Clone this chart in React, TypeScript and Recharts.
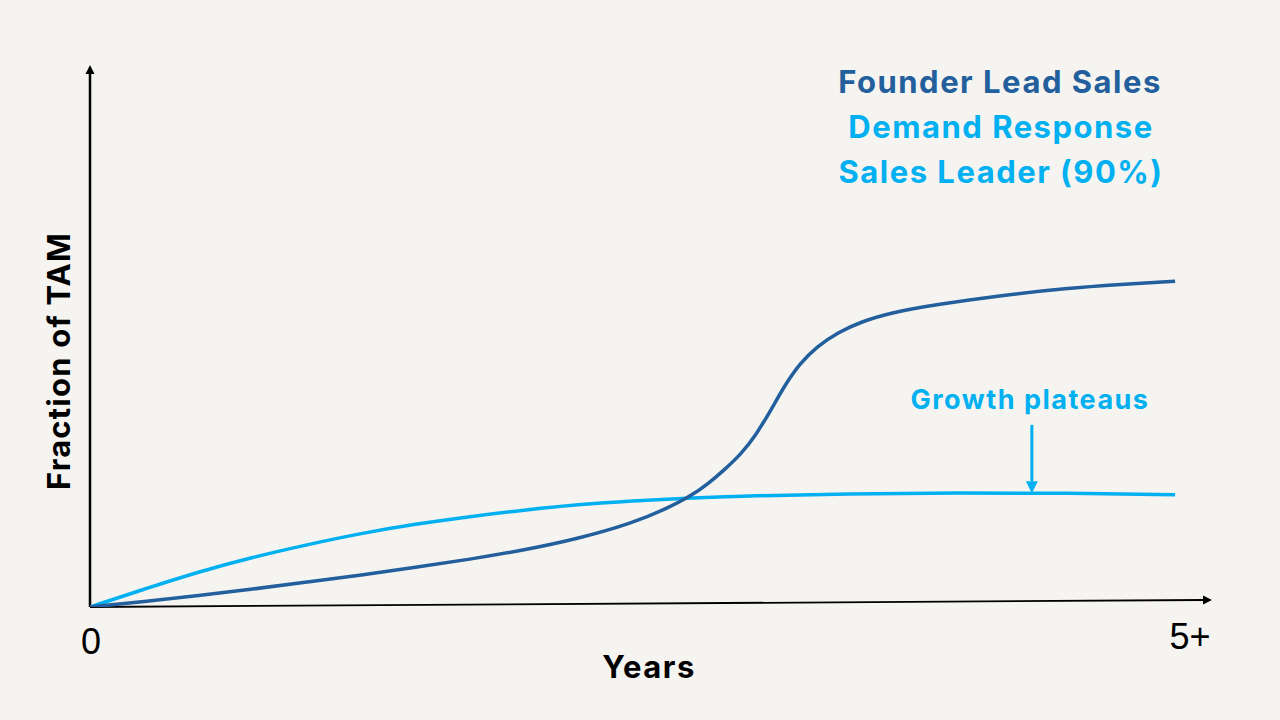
import { LineChart, Line, XAxis, YAxis, ReferenceLine } from 'recharts';

// years since start vs fraction of TAM captured
const founderYears = [0, 0.25, 0.5, 0.75, 1, 1.25, 1.5, 1.75, 2, 2.25, 2.5, 2.65, 2.77, 2.85, 2.92, 3, 3.07, 3.14, 3.2, 3.27, 3.35, 3.45, 3.55, 3.7, 3.9, 4.2, 4.5, 4.75, 5];
const founderShare = [0, 0.01, 0.021, 0.033, 0.046, 0.059, 0.073, 0.088, 0.105, 0.126, 0.155, 0.18, 0.205, 0.228, 0.252, 0.282, 0.318, 0.365, 0.408, 0.449, 0.481, 0.507, 0.526, 0.544, 0.558, 0.575, 0.588, 0.595, 0.601];

const demandYears = [0, 0.25, 0.5, 0.75, 1, 1.25, 1.5, 1.75, 2, 2.25, 2.5, 2.75, 3, 3.5, 4, 4.5, 5];
const demandShare = [0, 0.033, 0.065, 0.092, 0.115, 0.136, 0.153, 0.167, 0.179, 0.189, 0.196, 0.201, 0.205, 0.209, 0.211, 0.21, 0.207];

const legendItems = ['Founder Lead Sales', 'Demand Response', 'Sales Leader (90%)'];
const annotation = 'Growth plateaus';
const annotationYear = 4.34;
const xTickLabels = ['0', '5+'];

const DARK = '#235f9c';
const LIGHT = '#00b0f0';
const BG = '#f5f4f1';

const founderData = founderYears.map((x, i) => ({ x, y: founderShare[i] }));
const demandData = demandYears.map((x, i) => ({ x, y: demandShare[i] }));

const arrowShape = (color: string, width: number, head: number) => (props: any) => {
  const { x1, y1, x2, y2 } = props;
  const ang = Math.atan2(y2 - y1, x2 - x1);
  const bx = x2 - Math.cos(ang) * head;
  const by = y2 - Math.sin(ang) * head;
  const px = -Math.sin(ang) * head * 0.5;
  const py = Math.cos(ang) * head * 0.5;
  return (
    <g>
      <line x1={x1} y1={y1} x2={bx} y2={by} stroke={color} strokeWidth={width} />
      <polygon points={`${x2},${y2} ${bx + px},${by + py} ${bx - px},${by - py}`} fill={color} />
    </g>
  );
};

const center = (cx: number, cy: number, h: number) => ({
  position: 'absolute' as const,
  left: cx - 250,
  width: 500,
  top: cy - h / 2,
  height: h,
  lineHeight: `${h}px`,
  textAlign: 'center' as const,
  whiteSpace: 'nowrap' as const,
});

const boldFont = (size: number) => `700 ${size}px Inter, sans-serif`;

export default function App() {
  return (
    <div style={{ position: 'absolute', left: 0, top: 0, width: 1280, height: 720, background: BG, overflow: 'hidden' }}>
      <LineChart width={1280} height={720} margin={{ top: 65, right: 68, bottom: 113, left: 90 }}>
        <XAxis type="number" dataKey="x" domain={[0, 5.17]} hide allowDataOverflow />
        <YAxis type="number" dataKey="y" domain={[0, 1]} hide allowDataOverflow />
        <ReferenceLine
          segment={[{ x: 0, y: 0 }, { x: 0, y: 1 }]}
          ifOverflow="visible"
          shape={arrowShape('#000', 2.5, 9)}
        />
        <ReferenceLine
          segment={[{ x: 0, y: 0 }, { x: 5.17, y: 0.013 }]}
          ifOverflow="visible"
          shape={arrowShape('#000', 1.8, 9)}
        />
        <ReferenceLine
          segment={[{ x: annotationYear, y: 0.336 }, { x: annotationYear, y: 0.21 }]}
          ifOverflow="visible"
          shape={arrowShape(LIGHT, 3, 12)}
        />
        <Line data={demandData} dataKey="y" type="basis" stroke={LIGHT} strokeWidth={3.5} dot={false} isAnimationActive={false} />
        <Line data={founderData} dataKey="y" type="basis" stroke={DARK} strokeWidth={3.5} dot={false} isAnimationActive={false} />
      </LineChart>

      <div style={{ ...center(1000, 83, 40), color: DARK, font: boldFont(31), letterSpacing: 1.5 }}>{legendItems[0]}</div>
      <div style={{ ...center(1001, 128, 40), color: LIGHT, font: boldFont(31), letterSpacing: 1.5 }}>{legendItems[1]}</div>
      <div style={{ ...center(1001, 173, 40), color: LIGHT, font: boldFont(31), letterSpacing: 1.5 }}>{legendItems[2]}</div>
      <div style={{ ...center(1030, 400, 34), color: LIGHT, font: boldFont(27), letterSpacing: 1.5 }}>{annotation}</div>

      <div style={{ ...center(91, 641, 40), color: '#000', font: '400 36px "Liberation Sans", Arial, sans-serif' }}>{xTickLabels[0]}</div>
      <div style={{ ...center(1190, 636, 40), color: '#000', font: '400 36px "Liberation Sans", Arial, sans-serif' }}>{xTickLabels[1]}</div>
      <div style={{ ...center(649, 668, 40), color: '#000', font: boldFont(31), letterSpacing: 1.5 }}>Years</div>
      <div
        style={{
          ...center(60, 361, 40),
          color: '#000',
          font: boldFont(31),
          letterSpacing: 1.2,
          transform: 'rotate(-90deg)',
        }}
      >
        Fraction of TAM
      </div>
    </div>
  );
}
